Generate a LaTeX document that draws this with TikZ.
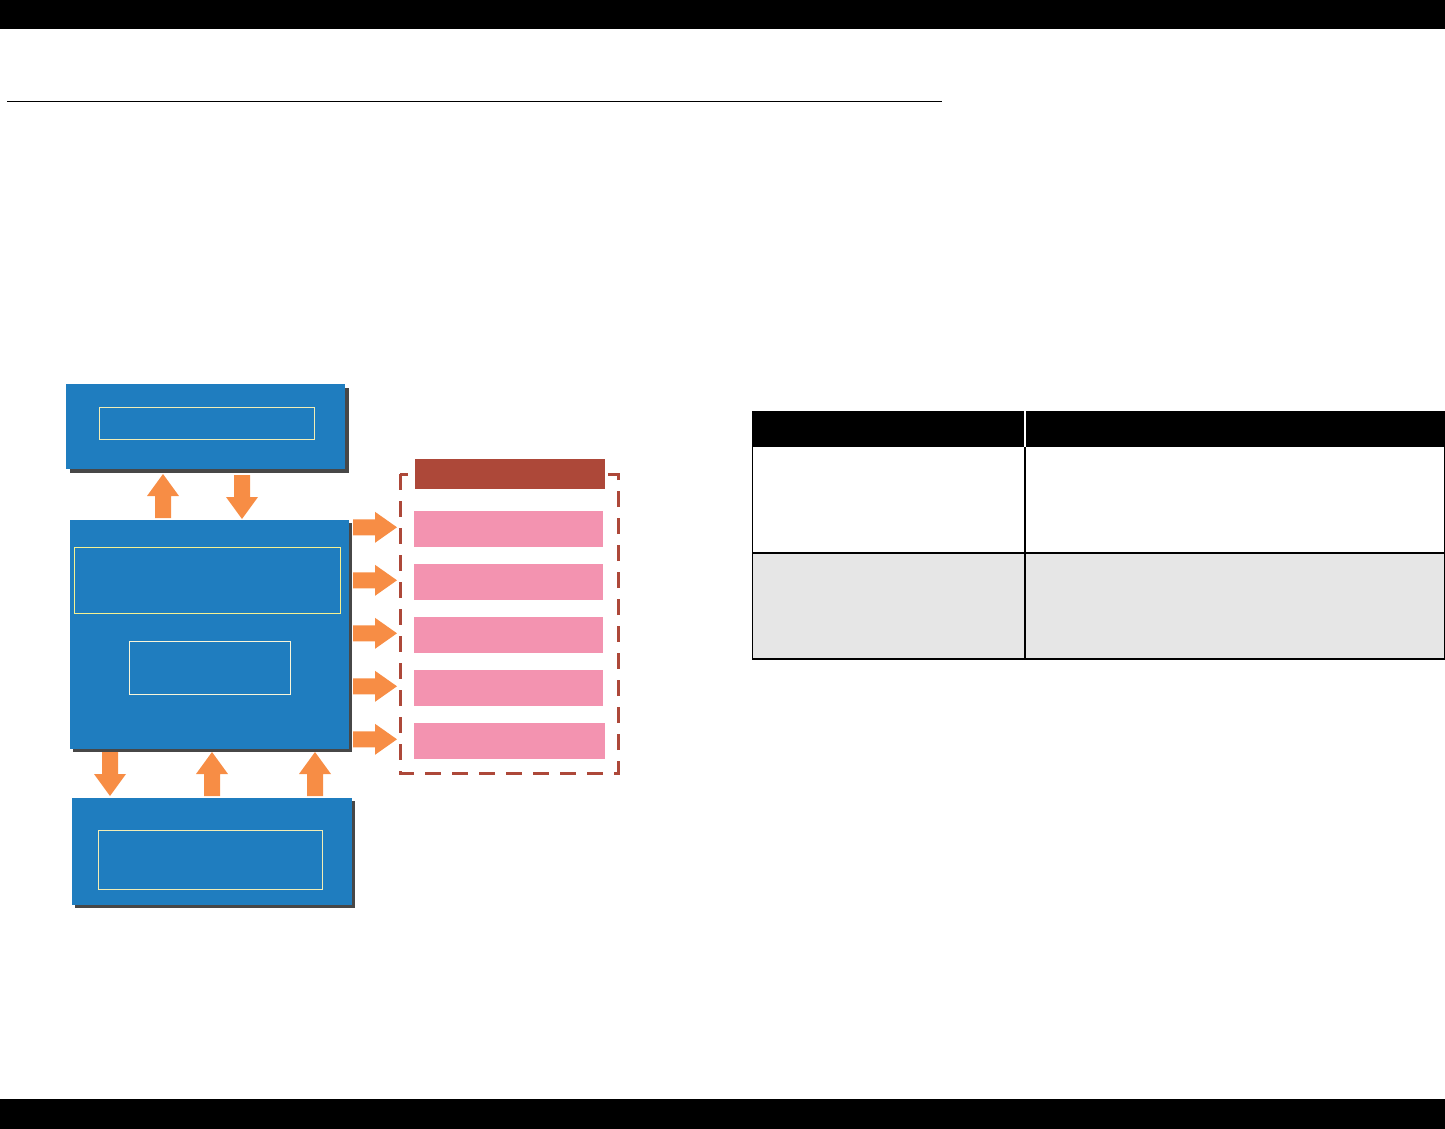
\documentclass[tikz,border=0pt]{standalone}
\definecolor{blueb}{HTML}{1F7DBF}
\definecolor{shadowc}{HTML}{474747}
\definecolor{orangec}{HTML}{F78D45}
\definecolor{innerc}{HTML}{F2EDB5}
\definecolor{brownc}{HTML}{AD4839}
\definecolor{pinkc}{HTML}{F393B0}
\definecolor{grayc}{HTML}{E6E6E6}
\newcommand\myuparr[4]{% name, x, ybottom, ytip
  \fill[orangec] ({#2-8},#3) -- ({#2-8},{#4+22}) -- ({#2-16},{#4+22}) -- (#2,#4) -- coordinate (#1) ({#2+16},{#4+22}) -- ({#2+8},{#4+22}) -- ({#2+8},#3) -- cycle;}
\newcommand\mydownarr[4]{% name, x, ytop, ytip
  \fill[orangec] ({#2-8},#3) -- ({#2-8},{#4-22}) -- ({#2-16},{#4-22}) -- (#2,#4) -- coordinate (#1) ({#2+16},{#4-22}) -- ({#2+8},{#4-22}) -- ({#2+8},#3) -- cycle;}
\newcommand\myrightarr[2]{% name, ycenter
  \fill[orangec] (353,{#2-8}) -- (375,{#2-8}) -- (375,{#2-15.5}) -- (397,#2) -- coordinate (#1) (375,{#2+15.5}) -- (375,{#2+8}) -- (353,{#2+8}) -- cycle;}
\begin{document}
\begin{tikzpicture}[x=1pt,y=-1pt,
  box/.style={fill=blueb, draw=none, inner sep=0pt, outer sep=0pt, anchor=north west},
  innerbox/.style={draw=innerc, line width=1pt, fill=none, inner sep=0pt, outer sep=0pt, anchor=north west},
  pinkbox/.style={fill=pinkc, draw=none, inner sep=0pt, outer sep=0pt, anchor=north west, minimum height=36pt},
  shadowbox/.style={fill=shadowc}]
\useasboundingbox (0,0) rectangle (1445,1129);
% page bars and rule
\fill[black] (0,0) rectangle (1445,29);
\fill[black] (0,1099) rectangle (1445,1129);
\draw[line width=1pt] (7,102) -- (942,102);

% top box
\fill[shadowbox] (70,388) rectangle (349,473);
\node[box, minimum width=279pt, minimum height=85pt] (topbox) at (66,384) {};
\node[innerbox, minimum width=215pt, minimum height=32pt] (topin) at (99,407) {};

% middle box
\fill[shadowbox] (73,523) rectangle (352,752);
\node[box, minimum width=279pt, minimum height=229pt] (midbox) at (70,520) {};
\node[innerbox, draw=innerc!80!yellow, minimum width=266pt, minimum height=66pt] (midin1) at (74,547) {};
\node[innerbox, draw=innerc!50!white, minimum width=161pt, minimum height=53pt] (midin2) at (129,641) {};

% bottom box
\fill[shadowbox] (75,801) rectangle (355,908);
\node[box, minimum width=280pt, minimum height=107pt] (botbox) at (72,798) {};
\node[innerbox, minimum width=224pt, minimum height=59pt] (botin) at (98,830) {};

% vertical arrows
\myuparr{a1}{163}{518}{474}
\mydownarr{a2}{242}{475}{519}
\mydownarr{a3}{110}{752}{796}
\myuparr{a4}{212}{796}{752}
\myuparr{a5}{315}{796}{752}

% right arrows
\myrightarr{r1}{527.3}
\myrightarr{r2}{580.3}
\myrightarr{r3}{633.3}
\myrightarr{r4}{686.3}
\myrightarr{r5}{739.3}

% dashed group
\draw[brownc, line width=3pt, dash pattern=on 16pt off 11pt] (400,474) rectangle (618,773);
\node[fill=brownc, inner sep=0pt, outer sep=0pt, anchor=north west, minimum width=190pt, minimum height=30pt] (head) at (415,459) {};
\node[pinkbox, minimum width=189pt] (p1) at (414,511) {};
\node[pinkbox, minimum width=189pt] (p2) at (414,564) {};
\node[pinkbox, minimum width=189pt] (p3) at (414,617) {};
\node[pinkbox, minimum width=189pt] (p4) at (414,670) {};
\node[pinkbox, minimum width=191pt] (p5) at (414,723) {};

% table
\fill[black] (752,411) rectangle (1445,447);
\draw[white, line width=1.5pt] (1025,411) -- (1025,447);
\fill[grayc] (752,553) rectangle (1445,659);
\draw[black, line width=1.3pt] (752.5,447) -- (752.5,659) -- (1444.5,659) -- (1444.5,447);
\draw[black, line width=1.3pt] (752,553) -- (1445,553);
\draw[black, line width=1.3pt] (1025,447) -- (1025,659);
\end{tikzpicture}
\end{document}
